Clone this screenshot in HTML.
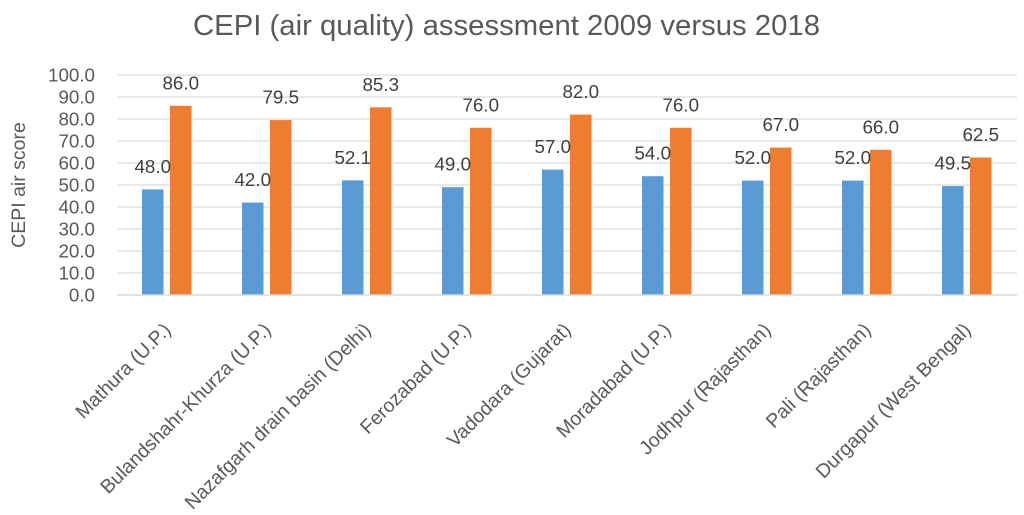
<!DOCTYPE html>
<html>
<head>
<meta charset="utf-8">
<style>
  html,body{margin:0;padding:0;background:#fff;}
  svg{display:block;}
  text{font-family:"Liberation Sans", sans-serif;}
</style>
</head>
<body>
<svg width="1024" height="515" viewBox="0 0 1024 515" xmlns="http://www.w3.org/2000/svg">
  <rect x="0" y="0" width="1024" height="515" fill="#ffffff"/>
  <!-- Title -->
  <text x="193" y="35" font-size="29" fill="#595959" textLength="627" lengthAdjust="spacingAndGlyphs">CEPI (air quality) assessment 2009 versus 2018</text>

  <!-- Gridlines -->
  <g stroke="#D9D9D9" stroke-width="1.2">
    <line x1="117" y1="75" x2="1017" y2="75"/>
    <line x1="117" y1="97" x2="1017" y2="97"/>
    <line x1="117" y1="119" x2="1017" y2="119"/>
    <line x1="117" y1="141" x2="1017" y2="141"/>
    <line x1="117" y1="163" x2="1017" y2="163"/>
    <line x1="117" y1="185" x2="1017" y2="185"/>
    <line x1="117" y1="207" x2="1017" y2="207"/>
    <line x1="117" y1="229" x2="1017" y2="229"/>
    <line x1="117" y1="251" x2="1017" y2="251"/>
    <line x1="117" y1="273" x2="1017" y2="273"/>
  </g>

  <!-- Y tick labels -->
  <g font-size="18.8" fill="#595959" text-anchor="end">
    <text x="95" y="81.5">100.0</text>
    <text x="95" y="103.5">90.0</text>
    <text x="95" y="125.5">80.0</text>
    <text x="95" y="147.5">70.0</text>
    <text x="95" y="169.5">60.0</text>
    <text x="95" y="191.5">50.0</text>
    <text x="95" y="213.5">40.0</text>
    <text x="95" y="235.5">30.0</text>
    <text x="95" y="257.5">20.0</text>
    <text x="95" y="279.5">10.0</text>
    <text x="95" y="301.5">0.0</text>
  </g>

  <!-- Y axis title -->
  <text transform="translate(25,185) rotate(-90)" font-size="19.5" fill="#595959" text-anchor="middle">CEPI air score</text>

  <!-- Bars: blue -->
  <g fill="#5B9BD5">
    <rect x="142" y="189.4" width="21.5" height="105.6"/>
    <rect x="242" y="202.6" width="21.5" height="92.4"/>
    <rect x="342" y="180.38" width="21.5" height="114.62"/>
    <rect x="442" y="187.2" width="21.5" height="107.8"/>
    <rect x="542" y="169.6" width="21.5" height="125.4"/>
    <rect x="642" y="176.2" width="21.5" height="118.8"/>
    <rect x="742" y="180.6" width="21.5" height="114.4"/>
    <rect x="842" y="180.6" width="21.5" height="114.4"/>
    <rect x="942" y="186.1" width="21.5" height="108.9"/>
  </g>
  <!-- Bars: orange -->
  <g fill="#ED7D31">
    <rect x="170" y="105.8" width="21.5" height="189.2"/>
    <rect x="270" y="120.1" width="21.5" height="174.9"/>
    <rect x="370" y="107.34" width="21.5" height="187.66"/>
    <rect x="470" y="127.8" width="21.5" height="167.2"/>
    <rect x="570" y="114.6" width="21.5" height="180.4"/>
    <rect x="670" y="127.8" width="21.5" height="167.2"/>
    <rect x="770" y="147.6" width="21.5" height="147.4"/>
    <rect x="870" y="149.8" width="21.5" height="145.2"/>
    <rect x="970" y="157.5" width="21.5" height="137.5"/>
  </g>

  <!-- Axis line -->
  <line x1="117" y1="295" x2="1017" y2="295" stroke="#D9D9D9" stroke-width="1.5"/>

  <!-- Data labels -->
  <g font-size="18.8" fill="#404040" text-anchor="middle">
    <text x="152.75" y="172.9">48.0</text>
    <text x="252.75" y="186.1">42.0</text>
    <text x="352.75" y="163.9">52.1</text>
    <text x="452.75" y="170.7">49.0</text>
    <text x="552.75" y="153.1">57.0</text>
    <text x="652.75" y="159.7">54.0</text>
    <text x="752.75" y="164.1">52.0</text>
    <text x="852.75" y="164.1">52.0</text>
    <text x="952.75" y="169.6">49.5</text>

    <text x="180.75" y="89.3">86.0</text>
    <text x="280.75" y="103.6">79.5</text>
    <text x="380.75" y="90.8">85.3</text>
    <text x="480.75" y="111.3">76.0</text>
    <text x="580.75" y="98.1">82.0</text>
    <text x="680.75" y="111.3">76.0</text>
    <text x="780.75" y="131.1">67.0</text>
    <text x="880.75" y="133.3">66.0</text>
    <text x="980.75" y="141.0">62.5</text>
  </g>

  <!-- Category labels -->
  <g font-size="19.5" fill="#595959" text-anchor="end">
    <text transform="translate(172,331) rotate(-45)">Mathura (U.P.)</text>
    <text transform="translate(272,331) rotate(-45)">Bulandshahr-Khurza (U.P.)</text>
    <text transform="translate(372,331) rotate(-45)">Nazafgarh drain basin (Delhi)</text>
    <text transform="translate(472,331) rotate(-45)">Ferozabad (U.P.)</text>
    <text transform="translate(572,331) rotate(-45)">Vadodara (Gujarat)</text>
    <text transform="translate(672,331) rotate(-45)">Moradabad (U.P.)</text>
    <text transform="translate(772,331) rotate(-45)">Jodhpur (Rajasthan)</text>
    <text transform="translate(872,331) rotate(-45)">Pali (Rajasthan)</text>
    <text transform="translate(972,331) rotate(-45)">Durgapur (West Bengal)</text>
  </g>
</svg>
</body>
</html>
